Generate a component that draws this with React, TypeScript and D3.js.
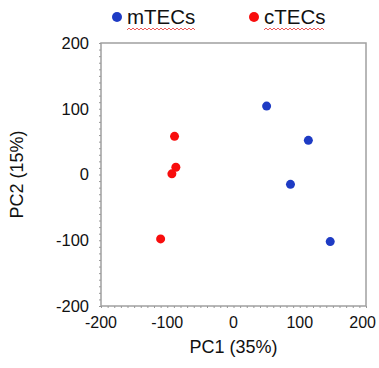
import { useRef, useEffect } from "react";
import * as d3 from "d3";

const groups = ["mTECs", "cTECs"];
const groupColors = ["#1e3bc4", "#f80d0d"];
const mTECsPC1 = [50, 113, 86, 146];
const mTECsPC2 = [104, 52, -15, -102];
const cTECsPC1 = [-89, -87, -93, -110];
const cTECsPC2 = [58, 11, 1, -98];
const tickValues = [-200, -100, 0, 100, 200];

export default function App() {
  const svgRef = useRef<SVGSVGElement>(null);

  useEffect(() => {
    const svg = d3.select(svgRef.current);
    svg.selectAll("*").remove();

    const width = 379;
    const height = 368;
    const margin = { top: 43, right: 13, bottom: 62, left: 101 };
    const font = "Liberation Sans, Arial, sans-serif";

    const x = d3.scaleLinear().domain([-200, 200]).range([margin.left, width - margin.right]);
    const y = d3.scaleLinear().domain([-200, 200]).range([height - margin.bottom, margin.top]);

    // frame
    svg.append("rect")
      .attr("x", x(-200))
      .attr("y", y(200))
      .attr("width", x(200) - x(-200))
      .attr("height", y(-200) - y(200))
      .attr("fill", "none")
      .attr("stroke", "#a0a0a0")
      .attr("stroke-width", 1.5);

    const minor = d3.range(-200, 201, 10);

    // Y axis
    const yAxis = svg.append("g")
      .attr("transform", `translate(${x(-200)},0)`)
      .call(d3.axisLeft(y).tickValues(minor).tickSize(2).tickFormat(() => ""));
    yAxis.select(".domain").remove();
    yAxis.selectAll("line").attr("stroke", "#999");
    tickValues.forEach(v => {
      svg.append("text")
        .attr("x", x(-200) - 12)
        .attr("y", y(v))
        .attr("dy", "0.35em")
        .attr("text-anchor", "end")
        .style("font-family", font)
        .style("font-size", "16.5px")
        .style("fill", "#111")
        .text(v);
    });

    // X axis
    const xAxis = svg.append("g")
      .attr("transform", `translate(0,${y(-200)})`)
      .call(d3.axisBottom(x).tickValues(minor).tickSize(2).tickFormat(() => ""));
    xAxis.select(".domain").remove();
    xAxis.selectAll("line").attr("stroke", "#999");
    tickValues.forEach(v => {
      const t = svg.append("text")
        .attr("x", x(v))
        .attr("y", y(-200) + 22)
        .attr("text-anchor", "middle")
        .style("font-family", font)
        .style("font-size", "16px")
        .style("fill", "#111")
        .text(v);
      const w = (t.node() as SVGTextElement).getComputedTextLength();
      if (x(v) + w / 2 > width - 3) t.attr("x", width - 3 - w / 2);
    });

    // axis titles
    svg.append("text")
      .attr("x", x(0))
      .attr("y", 353)
      .attr("text-anchor", "middle")
      .style("font-family", font)
      .style("font-size", "18px")
      .style("fill", "#111")
      .text("PC1 (35%)");

    svg.append("text")
      .attr("transform", `translate(23,${y(0)}) rotate(-90)`)
      .attr("text-anchor", "middle")
      .style("font-family", font)
      .style("font-size", "18px")
      .style("fill", "#111")
      .text("PC2 (15%)");

    // points
    const series = [
      { xs: mTECsPC1, ys: mTECsPC2, color: groupColors[0] },
      { xs: cTECsPC1, ys: cTECsPC2, color: groupColors[1] },
    ];
    series.forEach(s => {
      svg.append("g")
        .selectAll("circle")
        .data(s.xs.map((v, i) => [v, s.ys[i]]))
        .join("circle")
        .attr("cx", d => x(d[0]))
        .attr("cy", d => y(d[1]))
        .attr("r", 4.5)
        .attr("fill", s.color);
    });

    // legend
    const legendX = [117, 254];
    groups.forEach((g, i) => {
      svg.append("circle")
        .attr("cx", legendX[i])
        .attr("cy", 17)
        .attr("r", 5)
        .attr("fill", groupColors[i]);
      const t = svg.append("text")
        .attr("x", legendX[i] + 10)
        .attr("y", 24)
        .style("font-family", font)
        .style("font-size", "20.5px")
        .style("fill", "#111")
        .text(g);
      const w = (t.node() as SVGTextElement).getComputedTextLength();
      // spell-check squiggle
      const x0 = legendX[i] + 10;
      const pts: [number, number][] = d3.range(0, Math.floor(w / 2) + 1).map(k => [x0 + k * 2, 29 + (k % 2 ? -1 : 1)]);
      svg.append("path")
        .attr("d", d3.line()(pts))
        .attr("fill", "none")
        .attr("stroke", "#e83030")
        .attr("stroke-width", 0.8);
    });
  }, []);

  return <svg ref={svgRef} width={379} height={368} style={{ position: "absolute", left: 0, top: 0 }} />;
}
